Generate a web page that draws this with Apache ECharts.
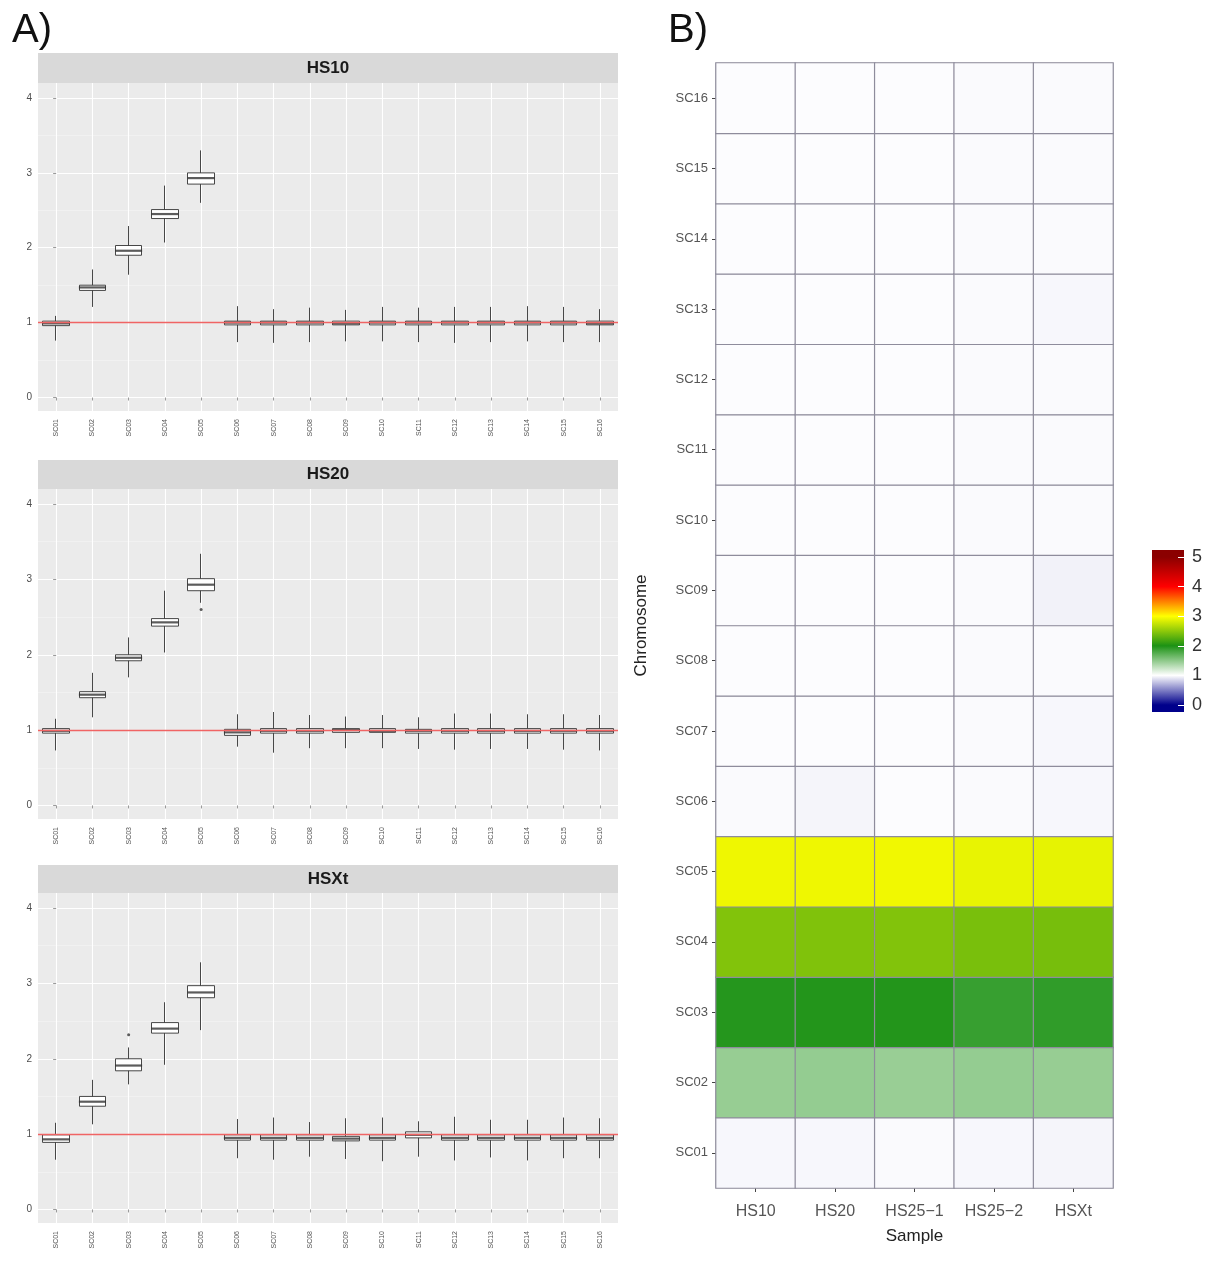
<!DOCTYPE html>
<html>
<head>
<meta charset="utf-8">
<script src="https://cdn.jsdelivr.net/npm/echarts@6/dist/echarts.min.js"></script>
<style>
  html, body { margin: 0; padding: 0; background: #ffffff; }
  #chart { width: 1215px; height: 1263px; }
</style>
</head>
<body>
<div id="chart"></div>
<script>
// ---- data ----------------------------------------------------------------
const chromosomes = ['SC01','SC02','SC03','SC04','SC05','SC06','SC07','SC08',
                     'SC09','SC10','SC11','SC12','SC13','SC14','SC15','SC16'];
const facetNames = ['HS10', 'HS20', 'HSXt'];

// per-chromosome five-number summaries: [min, Q1, median, Q3, max]
const hs10Box = [
  [0.76, 0.96, 0.99, 1.02, 1.09], [1.21, 1.43, 1.47, 1.50, 1.71],
  [1.64, 1.90, 1.96, 2.03, 2.29], [2.07, 2.39, 2.45, 2.51, 2.83],
  [2.60, 2.85, 2.93, 3.00, 3.30], [0.74, 0.97, 1.00, 1.02, 1.22],
  [0.73, 0.97, 1.00, 1.02, 1.18], [0.74, 0.97, 1.00, 1.02, 1.20],
  [0.75, 0.97, 0.99, 1.02, 1.17], [0.75, 0.97, 1.00, 1.02, 1.21],
  [0.74, 0.97, 1.00, 1.02, 1.20], [0.73, 0.97, 1.00, 1.02, 1.21],
  [0.74, 0.97, 1.00, 1.02, 1.21], [0.75, 0.97, 1.00, 1.02, 1.22],
  [0.74, 0.97, 1.00, 1.02, 1.21], [0.74, 0.97, 0.99, 1.02, 1.18]
];
const hs20Box = [
  [0.73, 0.96, 0.99, 1.02, 1.15], [1.17, 1.43, 1.47, 1.51, 1.76],
  [1.70, 1.92, 1.96, 2.00, 2.23], [2.03, 2.38, 2.43, 2.48, 2.85],
  [2.69, 2.85, 2.93, 3.01, 3.34], [0.78, 0.93, 0.97, 1.01, 1.21],
  [0.70, 0.96, 0.99, 1.02, 1.24], [0.76, 0.96, 0.99, 1.02, 1.20],
  [0.76, 0.97, 1.00, 1.02, 1.18], [0.76, 0.97, 0.99, 1.02, 1.20],
  [0.75, 0.96, 0.99, 1.01, 1.17], [0.74, 0.96, 0.99, 1.02, 1.22],
  [0.75, 0.96, 0.99, 1.02, 1.22], [0.75, 0.96, 0.99, 1.02, 1.21],
  [0.74, 0.96, 0.99, 1.02, 1.21], [0.73, 0.96, 0.99, 1.02, 1.20]
];
const hsxtBox = [
  [0.66, 0.89, 0.93, 0.99, 1.15], [1.13, 1.37, 1.43, 1.50, 1.72],
  [1.66, 1.84, 1.91, 2.00, 2.15], [1.92, 2.34, 2.40, 2.48, 2.75],
  [2.38, 2.81, 2.88, 2.97, 3.28], [0.68, 0.92, 0.95, 0.99, 1.20],
  [0.66, 0.92, 0.95, 0.99, 1.22], [0.70, 0.92, 0.95, 0.99, 1.16],
  [0.67, 0.91, 0.94, 0.97, 1.21], [0.64, 0.92, 0.95, 0.99, 1.22],
  [0.70, 0.95, 0.99, 1.03, 1.17], [0.65, 0.92, 0.95, 0.99, 1.23],
  [0.69, 0.92, 0.95, 0.99, 1.19], [0.65, 0.92, 0.95, 0.99, 1.19],
  [0.68, 0.92, 0.95, 0.99, 1.22], [0.68, 0.92, 0.95, 0.99, 1.21]
];
// outliers as [chromosome index, value]
const hs10Outliers = [];
const hs20Outliers = [[4, 2.60]];
const hsxtOutliers = [[2, 2.32]];

const boxTicks = [0, 1, 2, 3, 4];
const boxMinorTicks = [0.5, 1.5, 2.5, 3.5];
const referenceCopyNumber = 1;

// heatmap: mean copy number per sample, SC01..SC16
const samples = ['HS10', 'HS20', 'HS25\u22121', 'HS25\u22122', 'HSXt'];
const cnHS10  = [0.97, 1.46, 1.96, 2.45, 2.93, 0.98, 0.99, 0.99, 0.99, 0.99, 0.99, 0.99, 0.99, 0.99, 0.99, 0.99];
const cnHS20  = [0.97, 1.47, 1.97, 2.44, 2.93, 0.96, 0.99, 0.99, 0.99, 0.99, 0.99, 0.99, 0.99, 0.99, 0.99, 0.99];
const cnHS251 = [0.98, 1.45, 1.97, 2.45, 2.94, 0.99, 0.99, 0.99, 0.99, 0.99, 0.99, 0.99, 0.99, 0.99, 0.99, 0.99];
const cnHS252 = [0.97, 1.47, 1.88, 2.41, 2.90, 0.98, 0.98, 0.98, 0.98, 0.98, 0.98, 0.98, 0.98, 0.98, 0.98, 0.98];
const cnHSXt  = [0.96, 1.46, 1.91, 2.40, 2.89, 0.97, 0.97, 0.98, 0.95, 0.98, 0.98, 0.98, 0.97, 0.98, 0.98, 0.98];
const colorbarTicks = [0, 1, 2, 3, 4, 5];
const colorbarStops = ['#00008b', '#ffffff', '#1c9214', '#ffff00', '#ff0000', '#8b0000'];

// ---- layout ----------------------------------------------------------------
const FONT = 'Liberation Sans, Arial, sans-serif';
const panels = [
  { top: 83,  height: 328, strip: 53 },
  { top: 489, height: 330, strip: 460 },
  { top: 893, height: 330, strip: 865 }
];
const boxLeft = 38, boxWidth = 580, BOX_W = 27;
const Y_MIN = -0.18, Y_MAX = 4.2;
const CB_MIN = -0.24, CB_MAX = 5.24;
const LINE = '#333333';

const boxSets = [hs10Box, hs20Box, hsxtBox];
const outlierSets = [hs10Outliers, hs20Outliers, hsxtOutliers];
const heatRows = [cnHS10, cnHS20, cnHS251, cnHS252, cnHSXt];

const grid = [], xAxis = [], yAxis = [], series = [], graphic = [];

panels.forEach((p, i) => {
  grid.push({ left: boxLeft, top: p.top, width: boxWidth, height: p.height,
              show: true, backgroundColor: '#ebebeb', borderWidth: 0 });
  // category axis for the boxes
  xAxis.push({
    type: 'category', gridIndex: i, data: chromosomes,
    axisLine: { show: false },
    axisTick: { show: true, alignWithLabel: true, length: 3, lineStyle: { color: '#555', width: 0.6 } },
    axisLabel: { rotate: 90, fontSize: 7, color: '#555', margin: 8, interval: 0, fontFamily: FONT },
    splitLine: { show: false }
  });
  // major y axis
  yAxis.push({
    type: 'value', gridIndex: i, min: Y_MIN, max: Y_MAX,
    axisLine: { show: false },
    axisTick: { show: true, length: 3, customValues: boxTicks, lineStyle: { color: '#555', width: 0.6 } },
    axisLabel: { fontSize: 10, color: '#4d4d4d', margin: 6, customValues: boxTicks, fontFamily: FONT },
    splitLine: { show: true, lineStyle: { color: '#ffffff', width: 1.1 } }
  });
  // box (Q1..Q3) with uncapped whiskers (min..max): [open, close, low, high]
  const stats = boxSets[i];
  series.push({
    type: 'candlestick', name: facetNames[i], xAxisIndex: i, yAxisIndex: i,
    data: stats.map(s => [s[1], s[3], s[0], s[4]]),
    barWidth: BOX_W,
    itemStyle: { color: '#ffffff', color0: '#ffffff', borderColor: LINE, borderColor0: LINE,
                 borderWidth: 0.9 },
    z: 3,
    markLine: {
      silent: true, symbol: 'none', label: { show: false },
      lineStyle: { color: '#f06464', width: 1.3, type: 'solid' },
      data: [{ yAxis: referenceCopyNumber }]
    }
  });
  // medians
  series.push({
    type: 'scatter', xAxisIndex: i, yAxisIndex: i,
    data: stats.map((s, k) => [k, s[2]]),
    symbol: 'rect', symbolSize: [BOX_W, 2.2], itemStyle: { color: LINE }, z: 4
  });
  // outliers
  series.push({
    type: 'scatter', xAxisIndex: i, yAxisIndex: i, data: outlierSets[i],
    symbolSize: 3, itemStyle: { color: LINE }, z: 4
  });
  graphic.push({
    type: 'rect', left: boxLeft, top: p.strip,
    shape: { width: boxWidth, height: p.top - p.strip },
    style: { fill: '#d9d9d9' }, silent: true
  });
  graphic.push({
    type: 'text', x: boxLeft + boxWidth / 2, y: (p.strip + p.top) / 2,
    style: { text: facetNames[i], fill: '#1a1a1a', font: 'bold 17px ' + FONT,
             align: 'center', verticalAlign: 'middle' }, silent: true
  });
});

// minor horizontal and vertical gridlines for each facet
panels.forEach((p, i) => {
  yAxis.push({
    type: 'value', gridIndex: i, min: Y_MIN, max: Y_MAX, position: 'right',
    axisLine: { show: false }, axisLabel: { show: false },
    axisTick: { show: false, customValues: boxMinorTicks },
    splitLine: { show: true, lineStyle: { color: '#f5f5f5', width: 0.6 } }
  });
});
panels.forEach((p, i) => {
  xAxis.push({
    type: 'value', gridIndex: i, min: -0.5, max: chromosomes.length - 0.5, position: 'top',
    axisLine: { show: false }, axisLabel: { show: false },
    axisTick: { show: false, customValues: chromosomes.map((c, k) => k) },
    splitLine: { show: true, lineStyle: { color: '#ffffff', width: 1.1 } }
  });
});

// ---- heatmap ---------------------------------------------------------------
const HG = grid.length;
grid.push({ left: 716, top: 63, width: 397, height: 1125,
            show: true, backgroundColor: '#ebebeb', borderColor: '#d4d4d4', borderWidth: 1 });
const HX = xAxis.length;
xAxis.push({
  type: 'category', gridIndex: HG, data: samples,
  name: 'Sample', nameLocation: 'middle', nameGap: 40,
  nameTextStyle: { fontSize: 17, color: '#222', fontFamily: FONT },
  axisLine: { show: false },
  axisTick: { show: true, alignWithLabel: true, length: 4, lineStyle: { color: '#444' } },
  axisLabel: { fontSize: 16, color: '#555', margin: 16, fontFamily: FONT },
  splitLine: { show: false }
});
const HY = yAxis.length;
yAxis.push({
  type: 'category', gridIndex: HG, data: chromosomes,
  name: 'Chromosome', nameLocation: 'middle', nameGap: 66, nameRotate: 90,
  nameTextStyle: { fontSize: 17, color: '#222', fontFamily: FONT },
  axisLine: { show: false },
  axisTick: { show: true, alignWithLabel: true, length: 4, lineStyle: { color: '#444' } },
  axisLabel: { fontSize: 13, color: '#555', margin: 8, fontFamily: FONT },
  splitLine: { show: false }
});
const heatData = [];
heatRows.forEach((row, s) => row.forEach((v, c) => heatData.push([s, c, v])));
const HS = series.length;
series.push({
  type: 'heatmap', xAxisIndex: HX, yAxisIndex: HY, data: heatData,
  itemStyle: { borderColor: '#8e8c9c', borderWidth: 1.2 },
  emphasis: { disabled: true }
});

// ---- colour bar ------------------------------------------------------------
const stopOffset = v => (CB_MAX - v) / (CB_MAX - CB_MIN);
const gradStops = [{ offset: 0, color: colorbarStops[colorbarStops.length - 1] }];
colorbarTicks.slice().reverse().forEach((t, k) => {
  gradStops.push({ offset: stopOffset(t), color: colorbarStops[colorbarStops.length - 1 - k] });
});
gradStops.push({ offset: 1, color: colorbarStops[0] });

const CG = grid.length;
grid.push({
  left: 1152, top: 550, width: 32, height: 162, show: true, borderWidth: 0,
  backgroundColor: { type: 'linear', x: 0, y: 0, x2: 0, y2: 1, colorStops: gradStops }
});
xAxis.push({
  type: 'category', gridIndex: CG, data: [''], show: true,
  axisLine: { show: false }, axisTick: { show: false }, axisLabel: { show: false },
  splitLine: { show: false }
});
yAxis.push({
  type: 'value', gridIndex: CG, min: CB_MIN, max: CB_MAX, position: 'right',
  axisLine: { show: false },
  axisTick: { show: true, inside: true, length: 6, customValues: colorbarTicks,
              lineStyle: { color: '#ffffff', width: 1 } },
  axisLabel: { fontSize: 18, color: '#333', margin: 8, customValues: colorbarTicks, fontFamily: FONT },
  splitLine: { show: false }
});

// ---- panel tags --------------------------------------------------------------
graphic.push({ type: 'text', left: 12, top: 11,
  style: { text: 'A)', font: '40px ' + FONT, fill: '#111' }, silent: true });
graphic.push({ type: 'text', left: 668, top: 11,
  style: { text: 'B)', font: '40px ' + FONT, fill: '#111' }, silent: true });

const chart = echarts.init(document.getElementById('chart'), null, { renderer: 'canvas' });
chart.setOption({
  animation: false,
  backgroundColor: '#ffffff',
  textStyle: { fontFamily: FONT },
  grid, xAxis, yAxis, series, graphic,
  visualMap: {
    type: 'continuous', show: false, seriesIndex: HS, dimension: 2,
    min: 0, max: 5, inRange: { color: colorbarStops }
  }
});
</script>
</body>
</html>
